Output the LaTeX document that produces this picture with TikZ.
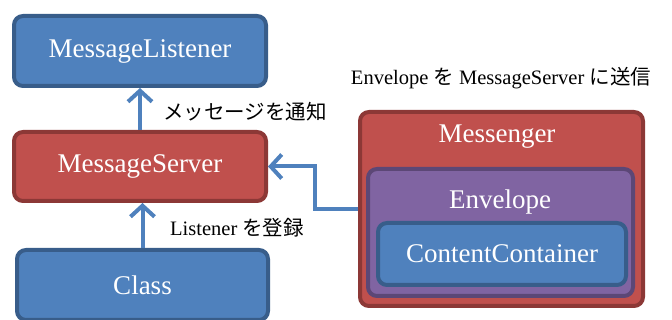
\documentclass[tikz,border=0pt]{standalone}
\usepackage{fontspec}
\setmainfont{Liberation Serif}
\newfontfamily\jp{Noto Sans CJK JP}
\usetikzlibrary{arrows.meta,calc}
\definecolor{bfill}{HTML}{4F81BD}
\definecolor{bline}{HTML}{385D8A}
\definecolor{rfill}{HTML}{C0504D}
\definecolor{rline}{HTML}{8C3836}
\definecolor{pfill}{HTML}{8064A2}
\definecolor{pline}{HTML}{5C4776}

\begin{document}
\begin{tikzpicture}[x=1pt,y=-1pt,
	box/.style={rectangle, rounded corners=9pt, line width=4pt, text=white, inner sep=0pt,
		font=\fontsize{27}{29}\selectfont},
	bluebox/.style={box, draw=bline, fill=bfill},
	redbox/.style={box, draw=rline, fill=rfill},
	purplebox/.style={box, draw=pline, fill=pfill},
	wtext/.style={text=white, inner sep=0pt, font=\fontsize{27}{29}\selectfont},
	note/.style={inner sep=0pt, font=\fontsize{20.5}{22}\selectfont},
	arr/.style={draw=bfill, line width=4pt, -{Straight Barb[length=11pt,width=24pt]}}]
	\useasboundingbox (0,0) rectangle (672,320);

	% left column
	\node[bluebox, minimum width=252pt, minimum height=70pt] (listener) at (140,51) {MessageListener};
	\node[redbox, minimum width=252pt, minimum height=69pt] (server) at (140,166.5) {MessageServer};
	\node[bluebox, minimum width=251pt, minimum height=70pt] (class) at (142.5,285) {Class};

	% messenger and its contents
	\node[redbox, minimum width=283pt, minimum height=194pt] (messenger) at (501.5,209) {};
	\node[purplebox, minimum width=265pt, minimum height=127pt] (envelope) at (500.5,232.5) {};
	\node[bluebox, minimum width=248pt, minimum height=62pt] (content) at (502,254) {ContentContainer};
	\node[wtext] (messengerlab) at (497,137) {Messenger};
	\node[wtext] (envelopelab) at (500,202) {Envelope};

	% connectors
	\draw[arr] (server.north) -- (listener.south);
	\draw[arr] (class.north) -- (class.north |- server.south);
	\coordinate (turn) at ([xshift=47pt]server.east);
	\draw[arr] (messenger.west) -| (turn) -- (server.east);

	% notes
	\node[note, anchor=west] (notify) at (163,112) {\jp メッセージを通知};
	\node[note, anchor=west] (register) at (170,228) {Listener {\jp を登録}};
	\node[note] (send) at (501,78) {Envelope {\jp を} MessageServer {\jp に送信}};
\end{tikzpicture}
\end{document}
